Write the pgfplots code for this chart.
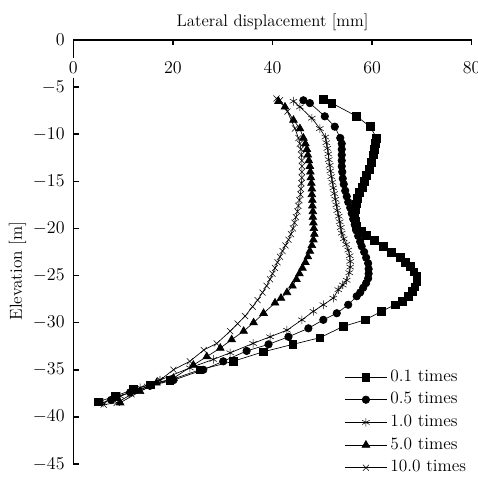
\RequirePackage{fix-cm}
\documentclass[border=0pt]{standalone}
\usepackage{pgfplots}
\pgfplotsset{compat=1.18}
\begin{document}
\begin{tikzpicture}[font=\fontsize{13}{15.6}\selectfont]
\begin{axis}[
  at={(0,0)}, anchor=south west,
  scale only axis, width=298.8pt, height=318pt,
  xmin=0, xmax=80, ymin=-45, ymax=0,
  axis x line=top, axis y line=left,
  axis line style={line width=1.1pt,-},
  xtick={0,20,40,60,80}, ytick={0,-5,...,-45},
  tick align=inside, major tick length=4pt,
  every tick/.style={line width=1.1pt, black},
  tick label style={font=\fontsize{13.5}{16}\selectfont},
  xticklabel style={anchor=south, yshift=-29pt, fill=white},
  yticklabel style={xshift=-3pt},
  every axis title shift=0pt,
  title={Lateral displacement [mm]},
  title style={at={(axis description cs:0.5,1.031)}, anchor=base, font=\fontsize{12.6}{15}\selectfont},
  ylabel={Elevation [m]},
  ylabel style={at={(axis description cs:-0.14,0.455)}, anchor=center, font=\fontsize{13}{15.6}\selectfont},
  legend cell align=left,
  legend style={draw=none, fill=none, inner sep=0pt, outer sep=0pt,
    at={(axis description cs:0.994,-0.0355)}, anchor=south east, row sep=0pt,
    font=\fontsize{13}{15.6}\selectfont,
    nodes={text height=9pt, text depth=3pt, inner sep=2.5pt}},
  legend image code/.code={\draw[mark repeat=2,mark phase=2] plot coordinates {(0cm,0cm) (0.55cm,0cm) (1.1cm,0cm)};},
  clip=false,
]
\addplot[black, line width=0.5pt, mark=square*, mark size=2.9pt, mark options={solid}] coordinates {
(50.2,-6.3) (51.9,-6.7) (56.9,-8.1) (59.6,-9.2) (60.9,-10.4) (60.7,-11.0) (60.5,-11.6) (60.3,-12.2)
(59.9,-13.0) (59.4,-13.7) (58.9,-14.4) (58.5,-15.0) (58.0,-15.6) (57.5,-16.2) (57.1,-16.8) (56.8,-17.4)
(56.6,-18.0) (56.5,-18.6) (56.6,-19.2) (56.9,-19.8) (57.8,-20.3) (58.9,-20.7) (60.4,-21.3) (62.2,-21.9)
(63.9,-22.5) (65.6,-23.1) (66.7,-23.6) (67.6,-24.0) (68.4,-24.6) (69.0,-25.1) (69.0,-25.6) (68.6,-26.2)
(68.0,-26.7) (67.2,-27.2) (66.0,-27.7) (64.6,-28.1) (61.9,-28.8) (58.6,-29.7) (54.2,-30.4) (49.5,-31.6)
(44.1,-32.3) (38.1,-33.1) (32.1,-34.1) (25.4,-35.0) (19.4,-36.1) (15.4,-36.6) (12.0,-37.1) (8.4,-37.8) (5.0,-38.4)
};
\addlegendentry{0.1 times}
\addplot[black, line width=0.5pt, mark=*, mark size=2.8pt, mark options={solid}] coordinates {
(46.2,-6.4) (47.5,-6.7) (50.5,-8.1) (52.5,-9.2) (53.6,-10.4) (53.9,-11.0) (53.9,-11.6) (53.9,-12.2)
(53.9,-12.8) (53.9,-13.4) (54.0,-14.0) (54.1,-14.7) (54.3,-15.3) (54.6,-16.0) (54.9,-16.6) (55.2,-17.2)
(55.6,-17.8) (55.9,-18.4) (56.2,-19.0) (56.5,-19.6) (56.8,-20.2) (57.2,-20.8) (57.6,-21.4) (57.9,-21.9)
(58.4,-22.5) (58.8,-23.1) (59.2,-23.7) (59.3,-24.3) (59.3,-24.8) (59.2,-25.3) (58.8,-25.8) (58.2,-26.3)
(57.6,-26.8) (56.9,-27.2) (55.2,-28.1) (52.9,-29.0) (50.2,-29.7) (47.2,-30.6) (43.2,-31.5) (39.2,-32.3)
(34.8,-33.0) (30.1,-34.1) (26.1,-35.0) (20.1,-36.1) (15.4,-36.7) (11.4,-37.4) (7.6,-38.2)
};
\addlegendentry{0.5 times}
\addplot[black, line width=0.5pt, mark=asterisk, mark size=3.2pt, mark options={solid, line width=0.4pt}] coordinates {
(44.2,-6.5) (45.5,-7.1) (47.9,-8.3) (49.5,-9.4) (50.6,-10.3) (50.8,-10.9) (51.0,-11.5) (51.2,-12.1)
(51.3,-12.7) (51.5,-13.3) (51.6,-13.9) (51.8,-14.5) (52.0,-15.1) (52.2,-15.7) (52.4,-16.3) (52.6,-16.9)
(52.8,-17.5) (53.0,-18.1) (53.3,-18.7) (53.5,-19.3) (53.7,-19.9) (53.9,-20.5) (54.3,-21.1) (54.8,-21.7)
(55.2,-22.3) (55.5,-22.9) (55.6,-23.5) (55.6,-24.1) (55.4,-24.7) (54.9,-25.5) (54.1,-26.0) (53.2,-26.5)
(52.2,-27.4) (50.2,-28.1) (48.2,-28.8) (45.9,-29.7) (42.9,-30.8) (39.5,-31.5) (36.1,-32.2) (31.5,-33.2)
(28.1,-33.9) (23.4,-34.8) (17.4,-36.1) (13.4,-36.9) (9.4,-37.8) (6.0,-38.5)
};
\addlegendentry{1.0 times}
\addplot[black, line width=0.5pt, mark=triangle*, mark size=3.3pt, mark options={solid}] coordinates {
(41.2,-6.5) (42.5,-7.1) (44.2,-8.5) (45.5,-9.4) (46.2,-10.4) (46.6,-11.0) (46.9,-11.6) (47.1,-12.2)
(47.3,-12.8) (47.5,-13.4) (47.6,-14.0) (47.7,-14.6) (47.8,-15.2) (47.9,-15.8) (47.9,-16.4) (48.0,-17.0)
(48.0,-17.6) (48.1,-18.2) (48.1,-18.8) (48.2,-19.4) (48.3,-20.0) (48.4,-20.6) (48.2,-21.2) (47.9,-21.8)
(47.5,-22.4) (47.1,-23.0) (46.6,-23.6) (46.0,-24.2) (45.4,-24.8) (44.8,-25.4) (44.0,-26.1) (42.9,-26.8)
(41.7,-27.4) (40.5,-27.9) (38.2,-29.0) (36.2,-30.0) (34.2,-30.9) (31.8,-31.8) (29.5,-32.7) (26.8,-33.6)
(24.1,-34.5) (20.1,-35.9) (16.7,-36.4) (13.4,-37.3) (9.4,-38.5)
};
\addlegendentry{5.0 times}
\addplot[black, line width=0.5pt, mark=x, mark size=3.2pt, mark options={solid, line width=0.4pt}] coordinates {
(40.8,-6.2) (41.5,-6.4) (43.0,-7.6) (44.5,-9.4) (45.2,-10.4) (45.5,-11.0) (45.7,-11.6) (45.8,-12.2)
(45.9,-12.8) (45.9,-13.4) (45.9,-14.0) (45.9,-14.6) (45.8,-15.2) (45.7,-15.8) (45.6,-16.4) (45.4,-17.0)
(45.2,-17.6) (45.0,-18.2) (44.7,-18.8) (44.4,-19.4) (44.1,-20.0) (43.7,-20.6) (43.2,-21.2) (42.6,-21.8)
(42.0,-22.4) (41.5,-23.0) (41.0,-23.6) (40.5,-24.2) (40.0,-24.8) (39.5,-25.4) (38.8,-26.1) (38.0,-26.8)
(37.0,-27.6) (36.0,-28.3) (34.5,-29.3) (33.0,-30.1) (31.5,-30.9) (28.8,-32.2) (26.2,-32.9) (23.4,-34.1)
(20.1,-35.0) (17.4,-36.1) (14.8,-36.8) (11.7,-37.6) (8.7,-38.5) (6.1,-38.7)
};
\addlegendentry{10.0 times}
\end{axis}
\pgfresetboundingbox
\path[use as bounding box] (-55pt,-9.75pt) rectangle (303.5pt,348pt);
\end{tikzpicture}
\end{document}
